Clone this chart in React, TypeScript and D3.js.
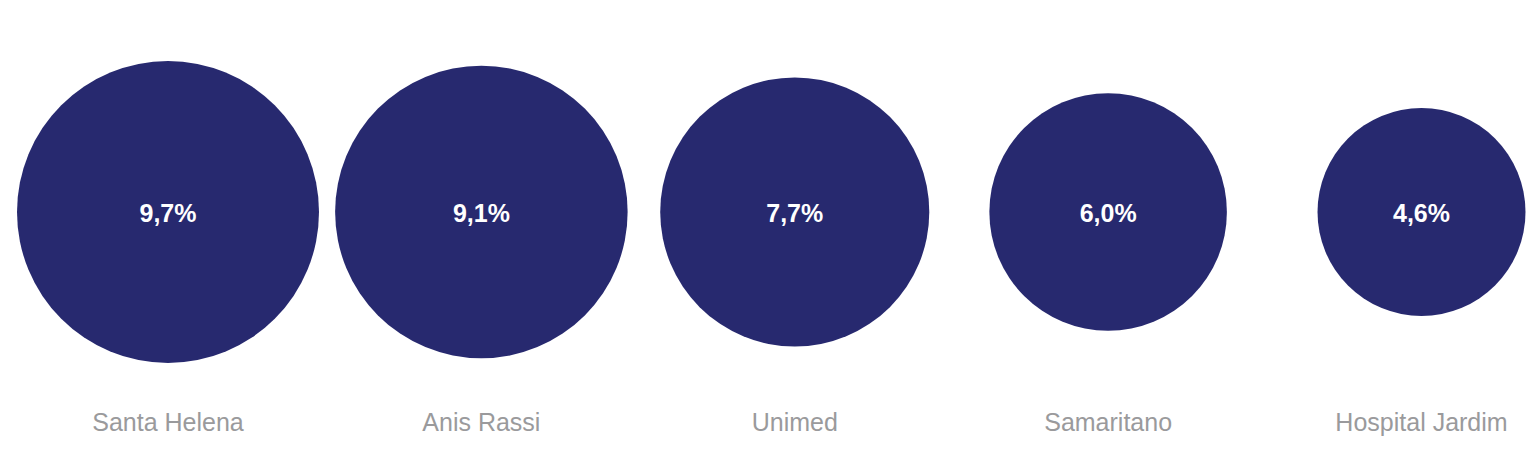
import { useEffect, useRef } from 'react';
import * as d3 from 'd3';

const categories = ['Santa Helena', 'Anis Rassi', 'Unimed', 'Samaritano', 'Hospital Jardim'];
const values = [9.7, 9.1, 7.7, 6.0, 4.6];
const valueLabels = ['9,7%', '9,1%', '7,7%', '6,0%', '4,6%'];

const WIDTH = 1539;
const HEIGHT = 455;

export default function App() {
  const svgRef = useRef<SVGSVGElement>(null);

  useEffect(() => {
    if (!svgRef.current) return;
    const svg = d3.select(svgRef.current);
    svg.selectAll('*').remove();

    const x = d3.scalePoint<string>().domain(categories).range([168, 1421.5]);
    const r = d3.scaleSqrt().domain([0, d3.max(values) as number]).range([0, 151]);
    const cy = 212;

    const g = svg
      .selectAll('g.bubble')
      .data(categories)
      .enter()
      .append('g')
      .attr('class', 'bubble')
      .attr('transform', (d) => `translate(${x(d)}, 0)`);

    g.append('circle')
      .attr('cx', 0)
      .attr('cy', cy)
      .attr('r', (_, i) => r(values[i]))
      .attr('fill', '#27296f');

    g.append('text')
      .attr('x', 0)
      .attr('y', cy + 9.5)
      .attr('text-anchor', 'middle')
      .attr('fill', '#ffffff')
      .attr('font-family', 'Liberation Sans, Arial, sans-serif')
      .attr('font-weight', 'bold')
      .attr('font-size', '25px')
      .text((_, i) => valueLabels[i]);

    g.append('text')
      .attr('x', 0)
      .attr('y', 431)
      .attr('text-anchor', 'middle')
      .attr('fill', '#9a9a9c')
      .attr('font-family', 'Liberation Sans, Arial, sans-serif')
      .attr('font-size', '25px')
      .text((d) => d);
  }, []);

  return (
    <svg
      ref={svgRef}
      width={WIDTH}
      height={HEIGHT}
      style={{ position: 'absolute', left: 0, top: 0, background: '#ffffff' }}
    />
  );
}
